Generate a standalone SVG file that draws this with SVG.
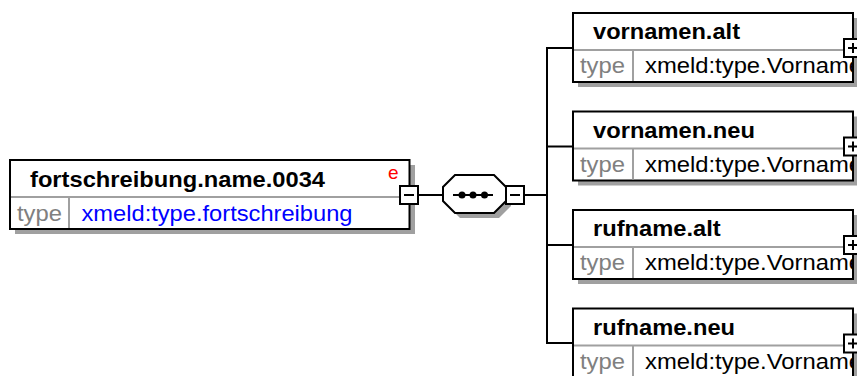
<svg xmlns="http://www.w3.org/2000/svg" width="857" height="376" viewBox="0 0 857 376">
<style>
.bg{fill:#ffffff}
.shadow{fill:#a0a0a0}
.box{fill:#ffffff;stroke:#000000;stroke-width:2}
.div{stroke:#a0a0a0;stroke-width:2}
.title{font-family:"Liberation Sans",Arial,sans-serif;font-weight:bold;font-size:22px;fill:#000000}
.type{font-family:"Liberation Sans",Arial,sans-serif;font-size:22px;fill:#808080}
.val{font-family:"Liberation Sans",Arial,sans-serif;font-size:22px;fill:#000000}
.blue{fill:#0000ff}
.e{font-family:"Liberation Sans",Arial,sans-serif;font-size:19px;fill:#ff0000}
.btn{fill:#ffffff;stroke:#000000;stroke-width:2}
.sign{stroke:#000000;stroke-width:2}
.conn{fill:none;stroke:#000000;stroke-width:2}
</style>
<defs>
<clipPath id="childclip" clipPathUnits="userSpaceOnUse"><rect x="0" y="0" width="280" height="69"/></clipPath>
</defs>
<rect class="bg" x="0" y="0" width="857" height="376"/>

<g id="connectors">
<line class="conn" x1="418" y1="195" x2="443" y2="195"/>
<line class="conn" x1="524" y1="195" x2="547" y2="195"/>
<line class="conn" x1="547" y1="47" x2="547" y2="344"/>
<line class="conn" x1="546" y1="48" x2="573" y2="48"/>
<line class="conn" x1="546" y1="146.5" x2="573" y2="146.5"/>
<line class="conn" x1="546" y1="245" x2="573" y2="245"/>
<line class="conn" x1="546" y1="343" x2="573" y2="343"/>
</g>

<g id="fortschreibung_name_0034">
<rect class="shadow" x="15" y="165" width="400" height="69"/>
<rect class="box" x="10" y="160" width="399.5" height="69"/>
<line class="div" x1="11" y1="197" x2="408.5" y2="197"/>
<line class="div" x1="69" y1="197" x2="69" y2="228"/>
<text class="title" x="30" y="187" textLength="295" lengthAdjust="spacingAndGlyphs">fortschreibung.name.0034</text>
<text class="e" x="388" y="179">e</text>
<text class="type" x="17" y="221" textLength="45" lengthAdjust="spacingAndGlyphs">type</text>
<text class="val blue" x="81.5" y="221" textLength="271" lengthAdjust="spacingAndGlyphs">xmeld:type.fortschreibung</text>
<rect class="btn" x="400" y="186" width="18" height="18"/>
<line class="sign" x1="404" y1="195" x2="414" y2="195"/>
</g>

<g id="sequence">
<polygon class="shadow" points="460,180 499,180 511,192 511,206 499,218 460,218 448,206 448,192"/>
<polygon class="box" points="455,175 494,175 506,187 506,201 494,213 455,213 443,201 443,187"/>
<line class="sign" x1="453" y1="195" x2="493" y2="195"/>
<circle cx="462" cy="195" r="3.5" fill="#000000"/>
<circle cx="473" cy="195" r="3.5" fill="#000000"/>
<circle cx="484.5" cy="195" r="3.5" fill="#000000"/>
<rect class="btn" x="506" y="186" width="18" height="18"/>
<line class="sign" x1="510" y1="195" x2="520" y2="195"/>
</g>

<g id="vornamen_alt" transform="translate(573,13)">
<rect class="shadow" x="5" y="5" width="280" height="69"/>
<rect class="box" x="0" y="0" width="280" height="69"/>
<line class="div" x1="1" y1="37" x2="279" y2="37"/>
<line class="div" x1="60" y1="37" x2="60" y2="68"/>
<text class="title" x="20" y="26" textLength="147" lengthAdjust="spacingAndGlyphs">vornamen.alt</text>
<text class="type" x="7" y="60" textLength="45" lengthAdjust="spacingAndGlyphs">type</text>
<text class="val" x="72" y="60" textLength="217" lengthAdjust="spacingAndGlyphs" clip-path="url(#childclip)">xmeld:type.Vorname</text>
<rect class="btn" x="271" y="26" width="18" height="18"/>
<line class="sign" x1="275" y1="35" x2="285" y2="35"/>
<line class="sign" x1="280" y1="30" x2="280" y2="40"/>
</g>

<g id="vornamen_neu" transform="translate(573,111.5)">
<rect class="shadow" x="5" y="5" width="280" height="69"/>
<rect class="box" x="0" y="0" width="280" height="69"/>
<line class="div" x1="1" y1="37" x2="279" y2="37"/>
<line class="div" x1="60" y1="37" x2="60" y2="68"/>
<text class="title" x="20" y="26" textLength="162" lengthAdjust="spacingAndGlyphs">vornamen.neu</text>
<text class="type" x="7" y="60" textLength="45" lengthAdjust="spacingAndGlyphs">type</text>
<text class="val" x="72" y="60" textLength="217" lengthAdjust="spacingAndGlyphs" clip-path="url(#childclip)">xmeld:type.Vorname</text>
<rect class="btn" x="271" y="26" width="18" height="18"/>
<line class="sign" x1="275" y1="35" x2="285" y2="35"/>
<line class="sign" x1="280" y1="30" x2="280" y2="40"/>
</g>

<g id="rufname_alt" transform="translate(573,210)">
<rect class="shadow" x="5" y="5" width="280" height="69"/>
<rect class="box" x="0" y="0" width="280" height="69"/>
<line class="div" x1="1" y1="37" x2="279" y2="37"/>
<line class="div" x1="60" y1="37" x2="60" y2="68"/>
<text class="title" x="20" y="26" textLength="127.6" lengthAdjust="spacingAndGlyphs">rufname.alt</text>
<text class="type" x="7" y="60" textLength="45" lengthAdjust="spacingAndGlyphs">type</text>
<text class="val" x="72" y="60" textLength="217" lengthAdjust="spacingAndGlyphs" clip-path="url(#childclip)">xmeld:type.Vorname</text>
<rect class="btn" x="271" y="26" width="18" height="18"/>
<line class="sign" x1="275" y1="35" x2="285" y2="35"/>
<line class="sign" x1="280" y1="30" x2="280" y2="40"/>
</g>

<g id="rufname_neu" transform="translate(573,308.5)">
<rect class="shadow" x="5" y="5" width="280" height="69"/>
<rect class="box" x="0" y="0" width="280" height="69"/>
<line class="div" x1="1" y1="37" x2="279" y2="37"/>
<line class="div" x1="60" y1="37" x2="60" y2="68"/>
<text class="title" x="20" y="26" textLength="142" lengthAdjust="spacingAndGlyphs">rufname.neu</text>
<text class="type" x="7" y="60" textLength="45" lengthAdjust="spacingAndGlyphs">type</text>
<text class="val" x="72" y="60" textLength="217" lengthAdjust="spacingAndGlyphs" clip-path="url(#childclip)">xmeld:type.Vorname</text>
<rect class="btn" x="271" y="26" width="18" height="18"/>
<line class="sign" x1="275" y1="35" x2="285" y2="35"/>
<line class="sign" x1="280" y1="30" x2="280" y2="40"/>
</g>
</svg>
